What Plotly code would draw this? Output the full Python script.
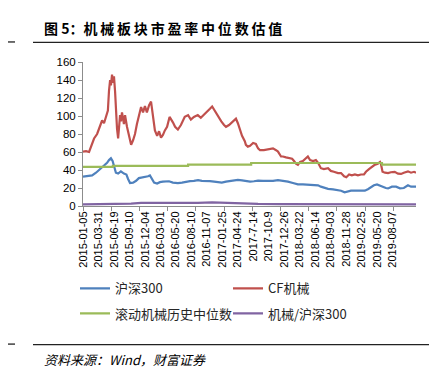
import plotly.graph_objects as go

# ---------------- data (trading-day index, value) ----------------
cf_day = [0, 11, 22, 29, 40, 51, 61, 69, 76, 83, 90, 94, 98, 101, 105, 108, 112, 116, 119, 123,
          127, 130, 134, 137, 141, 148, 152, 159, 166, 174, 181, 188, 195, 202, 210, 217, 224, 231,
          239, 246, 253, 260, 268, 275, 282, 289, 296, 304, 313, 318, 325, 333, 343, 354, 368, 380,
          390, 401, 415, 426, 437, 452, 459, 467, 474, 481, 492, 500, 510, 517, 528, 535, 546, 553,
          560, 568, 575, 585, 589, 596, 604, 615, 625, 633, 640, 654, 669, 687, 698, 705, 716, 723,
          734, 745, 756, 763, 770, 777, 785, 795, 806, 813, 821, 832, 842, 850, 860, 871, 886, 896,
          907, 922, 933, 944, 952, 962, 972, 983, 994, 1005, 1016, 1023, 1034, 1045, 1056, 1066,
          1074, 1077, 1083, 1092, 1103, 1113, 1127, 1139, 1150, 1160, 1175, 1186, 1197, 1204]
cf_pe = [60.5, 61, 60, 66, 75, 80, 88, 95, 92, 99, 106, 128, 140, 134, 146, 137, 144, 127, 104, 86,
         75, 89, 101, 94, 104, 91, 101, 88, 78, 68, 73, 80, 91, 99, 110, 104, 111, 104,
         112, 116, 100, 84, 78, 83, 76, 79, 84, 88, 99, 97, 93, 88, 85, 90, 99, 101,
         96, 99, 101, 98, 101, 105, 108, 110.6, 107, 103, 97, 94, 90, 88, 90, 92, 95, 97,
         92, 85, 78, 72, 68, 66, 67, 70, 69, 64, 62, 62, 63, 64, 62, 60.5, 55, 55,
         54, 53, 52.5, 50, 47, 45.7, 49, 50, 53, 55, 51, 50, 51, 48, 42, 41, 42, 39,
         38, 36.5, 36.6, 33, 32, 35, 34, 35, 34, 35, 35, 38, 41, 44, 46, 47,
         49, 47, 38, 37, 36.5, 37.5, 38, 36, 35.6, 37, 38.5, 37, 38, 37]

hs_day = [0, 18, 33, 47, 58, 69, 80, 87, 94, 101, 107, 112, 119, 127, 137, 148, 157, 163, 170, 181,
          192, 202, 213, 224, 235, 242, 249, 257, 268, 278, 289, 300, 311, 325, 343, 358, 372, 387,
          401, 416, 430, 445, 459, 474, 488, 502, 517, 531, 546, 560, 575, 589, 604, 618, 633, 651,
          669, 687, 705, 723, 741, 759, 777, 795, 813, 831, 850, 860, 874, 886, 904, 922, 933, 946,
          958, 969, 987, 1005, 1019, 1030, 1041, 1052, 1063, 1074, 1085, 1095, 1103, 1117, 1132,
          1146, 1160, 1175, 1186, 1197, 1204]
hs_pe = [32.7, 33, 34, 37, 40, 43, 46, 48, 51, 53, 50, 45, 37, 36, 38.5, 36, 35, 30, 25.5, 26,
         28, 31, 31.5, 32.5, 33, 34, 30, 26, 25, 26.5, 27, 27, 27.5, 26, 25.5, 26, 27, 27.6,
         28, 28.8, 28, 28, 27.6, 27, 26.5, 26, 27, 27.6, 28.5, 29, 28.5, 27.5, 27, 27.5, 28.2, 28,
         27.8, 28, 28.8, 28, 27, 25.5, 24, 24, 23.6, 23.5, 23, 21.5, 19.7, 19, 18.4, 18, 17, 15.2,
         16.5, 17, 17, 16.8, 17, 18.7, 21, 23, 24, 22.5, 21.5, 20, 19.5, 21.5, 21.5,
         19.7, 20, 23, 21.5, 21.5, 21.5]

median_day = [0, 108, 380, 608, 1081, 1204]
median_pe = [43.5, 44.5, 46, 47.8, 46, 46]

ratio_day = [0, 54, 90, 105, 127, 174, 210, 253, 289, 343, 415, 467, 517, 560, 596, 633, 705,
             777, 850, 922, 1005, 1074, 1103, 1204]
ratio_val = [1.8, 2.0, 2.3, 2.7, 2.1, 2.6, 3.4, 3.4, 3.0, 3.3, 3.5, 4.0, 3.3, 3.2, 2.4, 2.3, 2.1,
             2.0, 2.1, 2.0, 2.1, 2.2, 1.9, 1.8]

label_day = [56 * k for k in range(21)]
label_text = ["2015-01-05", "2015-03-31", "2015-06-19", "2015-09-10", "2015-12-04",
              "2016-03-01", "2016-05-20", "2016-08-10", "2016-11-07", "2017-01-25",
              "2017-04-24", "2017-7-14", "2017-10-9", "2017-12-26", "2018-03-22",
              "2018-06-14", "2018-09-03", "2018-11-28", "2019-02-25", "2019-05-20",
              "2019-08-07"]

series_names = ["沪深300", "CF机械", "滚动机械历史中位数", "机械/沪深300"]
colors = ["#4F81BD", "#C0504D", "#9BBB59", "#8064A2"]

# ---------------- layout helpers ----------------
W, H = 437, 368
L, R, T, B = 75, 408, 54, 197.7


def px(x):
    return (x - L) / (R - L)


def py(y):
    return (B - y) / (B - T)


fig = go.Figure()
fig.add_trace(go.Scatter(x=hs_day, y=hs_pe, mode="lines", name=series_names[0],
                         line=dict(color=colors[0], width=2.2), legend="legend"))
fig.add_trace(go.Scatter(x=cf_day, y=cf_pe, mode="lines", name=series_names[1],
                         line=dict(color=colors[1], width=2.2), legend="legend"))
fig.add_trace(go.Scatter(x=median_day, y=median_pe, mode="lines", name=series_names[2],
                         line=dict(color=colors[2], width=2.2, shape="hv"), legend="legend2"))
fig.add_trace(go.Scatter(x=ratio_day, y=ratio_val, mode="lines", name=series_names[3],
                         line=dict(color=colors[3], width=2.2), legend="legend2"))

axis_gray = "#8C8C8C"
legend_common = dict(orientation="h", xanchor="left", yanchor="middle",
                     entrywidth=108, entrywidthmode="pixels",
                     font=dict(family="Noto Sans CJK SC", size=13, color="#262626"),
                     bgcolor="rgba(0,0,0,0)", itemclick=False)

fig.update_layout(
    width=W, height=H,
    margin=dict(l=L, r=W - R, t=T, b=H - B),
    paper_bgcolor="white", plot_bgcolor="white",
    showlegend=True,
    legend=dict(x=px(67), y=py(280), **legend_common),
    legend2=dict(x=px(67), y=py(305), **legend_common),
    xaxis=dict(range=[0, 1204], showline=True, linecolor=axis_gray, linewidth=1,
               showgrid=False, zeroline=False,
               tickmode="array", tickvals=label_day, ticktext=label_text,
               ticks="", tickangle=-90,
               tickfont=dict(family="Liberation Sans", size=11, color="#000000"),
               minor=dict(tickmode="linear", tick0=0, dtick=102, ticks="outside",
                          ticklen=4, tickcolor=axis_gray, showgrid=False)),
    yaxis=dict(range=[0, 160], dtick=20, showline=True, linecolor=axis_gray, linewidth=1,
               showgrid=False, zeroline=False, ticks="outside", ticklen=4,
               tickcolor=axis_gray,
               tickfont=dict(family="Liberation Sans", size=11.5, color="#000000")),
)

ts = "\u2009"
title_text = "<b>图\u00a05：" + ts.join("机械板块市盈率中位数估值") + "</b>"
fig.add_annotation(x=px(34), y=py(20), xref="paper", yref="paper", xanchor="left",
                   yanchor="middle", showarrow=False, text=title_text,
                   font=dict(family="Noto Sans CJK SC", size=14, color="#000000"))
fig.add_annotation(x=px(34), y=py(351), xref="paper", yref="paper", xanchor="left",
                   yanchor="middle", showarrow=False,
                   text="<i>资料来源：Wind，财富证券</i>",
                   font=dict(family="Noto Sans CJK SC", size=13, color="#000000"))

for yline in (34.5, 336):
    fig.add_shape(type="line", xref="paper", yref="paper", x0=px(25), x1=px(428),
                  y0=py(yline), y1=py(yline), line=dict(color="#222222", width=1.3))
    fig.add_shape(type="line", xref="paper", yref="paper", x0=px(0), x1=px(7),
                  y0=py(yline - 0.5), y1=py(yline - 0.5), line=dict(color="#222222", width=1.3))

fig.write_html("out.html")
